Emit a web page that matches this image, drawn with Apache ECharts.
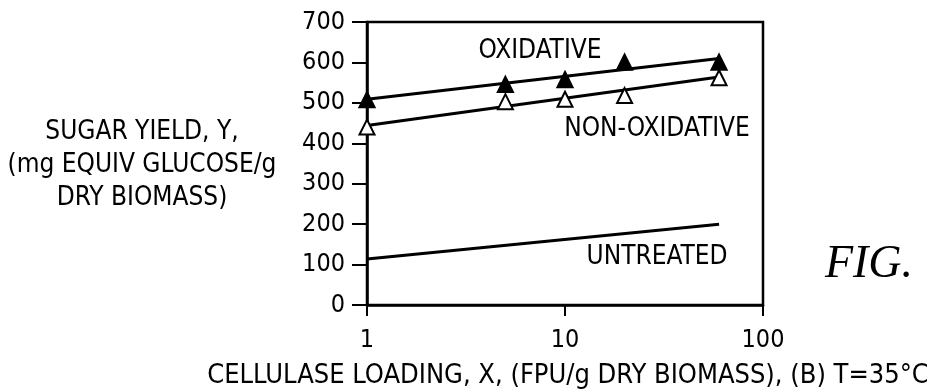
<!DOCTYPE html>
<html>
<head>
<meta charset="utf-8">
<script src="https://cdn.jsdelivr.net/npm/echarts@6/dist/echarts.min.js"></script>
<style>
html,body{margin:0;padding:0;background:#fff;}
#c{width:927px;height:392px;}
</style>
</head>
<body>
<div id="c"></div>
<script>
var xTicks = [1, 10, 100];
var yTicks = [0, 100, 200, 300, 400, 500, 600, 700];
var loading = [1, 5, 10, 20, 60];
var oxidative = [508, 546, 558, 601, 601];
var nonOxidative = [440, 503, 509, 518, 562];
var fitX = [1, 60];
var oxidativeFit = [509, 610];
var nonOxidativeFit = [444, 564];
var untreatedFit = [114, 200];
var seriesNames = ['OXIDATIVE', 'NON-OXIDATIVE', 'UNTREATED'];
var yName = 'SUGAR YIELD, Y,\n(mg EQUIV GLUCOSE/g\nDRY BIOMASS)';
var xName = 'CELLULASE LOADING, X, (FPU/g DRY BIOMASS), (B) T=35°C';
var figLabel = 'FIG.';

var FONT = "'DejaVu Sans Condensed','Liberation Sans Narrow',sans-serif";
function pairs(xs, ys){ return xs.map(function(x,i){ return [x, ys[i]]; }); }

var chart = echarts.init(document.getElementById('c'), null, {renderer:'canvas'});
var option = {
  animation: false,
  backgroundColor: '#fff',
  grid: {left: 367, right: 164, top: 22, bottom: 87, show: true, borderColor: '#000', borderWidth: 2.5, backgroundColor: 'transparent'},
  xAxis: {
    type: 'log', logBase: 10, min: xTicks[0], max: xTicks[xTicks.length-1],
    axisLine: {show: true, lineStyle: {color: '#000', width: 2.5}},
    axisTick: {show: true, inside: false, length: 11, lineStyle: {color: '#000', width: 2}},
    minorTick: {show: false},
    splitLine: {show: false},
    axisLabel: {color: '#000', fontSize: 25, fontFamily: FONT, margin: 23,
      formatter: function(v){ return String(Math.round(v)); }}
  },
  yAxis: {
    type: 'value', min: yTicks[0], max: yTicks[yTicks.length-1], interval: 100,
    axisLine: {show: true, lineStyle: {color: '#000', width: 2.5}},
    axisTick: {show: true, inside: false, length: 15, lineStyle: {color: '#000', width: 2}},
    splitLine: {show: false},
    axisLabel: {color: '#000', fontSize: 25, fontFamily: FONT, margin: 22}
  },
  series: [
    {name: seriesNames[0] + ' fit', type: 'line', data: pairs(fitX, oxidativeFit), symbol: 'none',
     lineStyle: {color: '#000', width: 3}, z: 2},
    {name: seriesNames[1] + ' fit', type: 'line', data: pairs(fitX, nonOxidativeFit), symbol: 'none',
     lineStyle: {color: '#000', width: 3}, z: 2},
    {name: seriesNames[2], type: 'line', data: pairs(fitX, untreatedFit), symbol: 'none',
     lineStyle: {color: '#000', width: 3}, z: 2},
    {name: seriesNames[0], type: 'scatter', data: pairs(loading, oxidative), symbol: 'triangle', symbolSize: [16, 16],
     itemStyle: {color: '#000', borderColor: '#000', borderWidth: 1.5, opacity: 1}, z: 4},
    {name: seriesNames[1], type: 'scatter', data: pairs(loading, nonOxidative), symbol: 'triangle', symbolSize: [15, 15],
     itemStyle: {color: '#fff', borderColor: '#000', borderWidth: 2, opacity: 1}, z: 4}
  ],
  graphic: [
    {type: 'text', x: 540, y: 51, style: {text: seriesNames[0], font: '26px ' + FONT, fill: '#000', align: 'center', verticalAlign: 'middle'}},
    {type: 'text', x: 657, y: 129, style: {text: seriesNames[1], font: '26px ' + FONT, fill: '#000', align: 'center', verticalAlign: 'middle'}},
    {type: 'text', x: 657, y: 257, style: {text: seriesNames[2], font: '26px ' + FONT, fill: '#000', align: 'center', verticalAlign: 'middle'}},
    {type: 'text', x: 142, y: 165, style: {text: yName, font: '26px ' + FONT, fill: '#000', align: 'center', verticalAlign: 'middle', lineHeight: 33}},
    {type: 'text', x: 568, y: 376, style: {text: xName, font: '27px ' + FONT, fill: '#000', align: 'center', verticalAlign: 'middle'}},
    {type: 'text', x: 869, y: 265, style: {text: figLabel, font: 'italic 46px "Liberation Serif","Times New Roman",serif', fill: '#000', align: 'center', verticalAlign: 'middle'}}
  ]
};
chart.setOption(option);
</script>
</body>
</html>
